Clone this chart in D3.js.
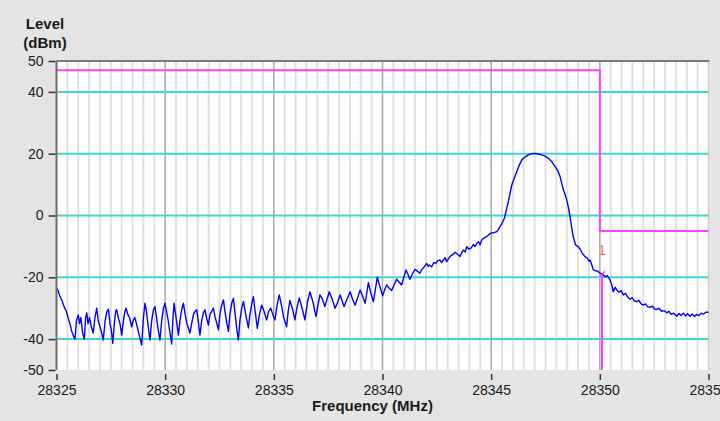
<!DOCTYPE html>
<html>
<head>
<meta charset="utf-8">
<script src="https://cdn.jsdelivr.net/npm/d3@7"></script>
<style>
  html, body { margin: 0; padding: 0; background: #e4e4e4; }
  svg { display: block; }
  text { font-family: "Liberation Sans", Arial, sans-serif; fill: #1a1a1a; }
</style>
</head>
<body>
<script>
// ---------------- DATA ----------------
const freqDomain = [28325, 28355];
const levelDomain = [-50, 50];
const xTickValues = [28325, 28330, 28335, 28340, 28345, 28350, 28355];
const yTickValues = [50, 40, 20, 0, -20, -40, -50];
const cyanGridLevels = [40, 20, 0, -20, -40];
const limitFreq = [28325, 28350, 28350, 28355];
const limitLevel = [47, 47, -5, -5];
const markerFreq = 28350.1;
const markerLevel = -19;
const markerLabel = "1";
const yTitle = ["Level", "(dBm)"];
const xTitle = "Frequency (MHz)";

// trace: [frequency MHz, level dBm]
const trace = [
[28325.00,-23.5],[28325.08,-24.5],[28325.15,-26],[28325.25,-27.5],[28325.35,-29.5],[28325.45,-31],
[28325.55,-33.5],[28325.62,-35],[28325.70,-37.5],[28325.78,-39],[28325.85,-40],[28325.92,-34],
[28326.00,-32.2],[28326.06,-35],[28326.12,-33],[28326.20,-38],[28326.28,-40],[28326.34,-33],
[28326.39,-31.5],[28326.45,-35],[28326.52,-33],[28326.60,-36],[28326.69,-38],[28326.77,-33],
[28326.85,-30],[28326.92,-34],[28327.00,-36],[28327.08,-38],[28327.15,-40.3],[28327.24,-34],
[28327.32,-31],[28327.39,-30.3],[28327.46,-35],[28327.52,-37],[28327.59,-41.4],[28327.66,-35],
[28327.72,-31],[28327.77,-30.5],[28327.84,-33],[28327.92,-35],[28328.00,-38.7],[28328.08,-34],
[28328.15,-31],[28328.20,-30],[28328.28,-32],[28328.36,-33],[28328.46,-36],[28328.53,-34],
[28328.60,-33],[28328.68,-35],[28328.78,-38],[28328.85,-40],[28328.92,-41.9],[28329.00,-33],
[28329.07,-28.4],[28329.14,-31],[28329.22,-36],[28329.30,-40.3],[28329.38,-34],[28329.46,-30.5],
[28329.53,-29.5],[28329.60,-33],[28329.68,-37],[28329.76,-40.3],[28329.84,-34],[28329.92,-30],
[28329.99,-28.4],[28330.06,-31],[28330.14,-34],[28330.22,-38],[28330.30,-41.6],[28330.36,-33],
[28330.41,-28.4],[28330.48,-32],[28330.54,-35],[28330.61,-38.7],[28330.68,-34],[28330.76,-30.5],
[28330.84,-28.4],[28330.92,-32],[28331.00,-35],[28331.07,-36.5],[28331.14,-38],[28331.22,-35],
[28331.30,-32],[28331.38,-31],[28331.45,-30.5],[28331.52,-34],[28331.60,-38.7],[28331.68,-34],
[28331.76,-31.5],[28331.83,-30.5],[28331.90,-33],[28331.99,-35.5],[28332.06,-32],[28332.14,-31],
[28332.22,-30],[28332.30,-33],[28332.38,-35],[28332.45,-37],[28332.52,-32],[28332.60,-29],
[28332.68,-27.3],[28332.75,-31],[28332.84,-35],[28332.91,-37.5],[28332.98,-32],[28333.06,-28.5],
[28333.14,-26.8],[28333.22,-32],[28333.30,-37],[28333.37,-40.3],[28333.44,-34],[28333.52,-30],
[28333.60,-27.8],[28333.68,-31],[28333.76,-34],[28333.83,-36.4],[28333.90,-32],[28334.00,-28],
[28334.06,-26.3],[28334.14,-31],[28334.24,-36.5],[28334.34,-32],[28334.44,-29],[28334.55,-31],
[28334.67,-33.8],[28334.76,-31],[28334.86,-30],[28334.95,-32],[28335.05,-33.8],[28335.15,-29],
[28335.25,-25.7],[28335.35,-29],[28335.45,-33],[28335.59,-36],[28335.66,-31],[28335.74,-27.5],
[28335.85,-30],[28335.97,-33.8],[28336.06,-30],[28336.17,-26.7],[28336.30,-30],[28336.43,-33.8],
[28336.55,-28],[28336.66,-24.7],[28336.80,-28],[28336.94,-32.7],[28337.03,-29],[28337.12,-25.7],
[28337.23,-27],[28337.35,-29.5],[28337.45,-27],[28337.55,-24.7],[28337.68,-27],[28337.82,-30],
[28337.94,-28],[28338.05,-25.7],[28338.14,-27.5],[28338.23,-29.5],[28338.37,-27],[28338.51,-24.7],
[28338.62,-27],[28338.74,-29],[28338.86,-26.5],[28338.97,-24.1],[28339.08,-26],[28339.20,-28.4],
[28339.28,-25],[28339.35,-21.7],[28339.46,-25],[28339.58,-27.9],[28339.67,-24],[28339.76,-20],
[28339.88,-23],[28340.01,-26],[28340.10,-24],[28340.19,-22.5],[28340.30,-23.5],[28340.42,-24.3],
[28340.53,-22.5],[28340.65,-20.6],[28340.76,-21.5],[28340.88,-22.5],[28340.98,-20],[28341.08,-17.6],
[28341.17,-19],[28341.26,-20.6],[28341.37,-19],[28341.49,-17.4],[28341.60,-18],[28341.72,-18.7],
[28341.80,-17.6],[28341.88,-17],[28341.96,-16.2],[28342.03,-15.5],[28342.10,-16.4],[28342.15,-16],
[28342.26,-16.6],[28342.36,-15.2],[28342.45,-15.5],[28342.55,-14.6],[28342.64,-14.4],[28342.72,-15.2],
[28342.80,-14.5],[28342.88,-13.6],[28342.95,-15],[28343.05,-13.8],[28343.15,-13],[28343.25,-12.6],
[28343.33,-11.9],[28343.45,-12.5],[28343.56,-13.3],[28343.65,-12.0],[28343.72,-11.2],[28343.80,-11.8],
[28343.88,-10.1],[28343.98,-10.9],[28344.08,-10.5],[28344.18,-9.4],[28344.26,-10.0],[28344.34,-9.0],
[28344.42,-8.5],[28344.49,-9.5],[28344.56,-8.0],[28344.64,-7.4],[28344.75,-7.0],[28344.85,-6.5],
[28344.95,-5.8],[28345.10,-5.6],[28345.26,-5.2],[28345.33,-4.5],[28345.41,-3.6],[28345.52,-2.2],
[28345.61,-0.9],[28345.70,1.8],[28345.79,4.5],[28345.87,7.2],[28345.95,9.9],[28346.05,11.8],
[28346.18,14.2],[28346.30,16.4],[28346.41,18.0],[28346.55,18.9],[28346.71,19.6],[28346.86,20.0],
[28347.02,20.1],[28347.18,19.9],[28347.33,19.6],[28347.48,19.2],[28347.63,18.5],[28347.80,17.3],
[28347.94,15.8],[28348.06,14.6],[28348.17,12.6],[28348.25,10.3],[28348.32,8.3],[28348.40,6.8],
[28348.48,5.0],[28348.56,2.4],[28348.63,-0.4],[28348.70,-3.8],[28348.78,-6.9],[28348.88,-9.5],
[28349.01,-10.1],[28349.10,-11.0],[28349.20,-12.3],[28349.32,-13.3],[28349.42,-13.8],[28349.50,-14.8],
[28349.55,-14.4],[28349.62,-15.8],[28349.70,-17.6],[28349.80,-17.9],[28349.90,-18.0],[28350.01,-18.7],
[28350.12,-18.9],[28350.24,-19.8],[28350.35,-19.5],[28350.47,-20.9],[28350.55,-22.5],[28350.62,-24.7],
[28350.70,-23.2],[28350.78,-24.1],[28350.88,-24.8],[28350.98,-24.3],[28351.08,-25.7],[28351.18,-25.2],
[28351.28,-26.4],[28351.39,-27.1],[28351.48,-26.6],[28351.58,-27.6],[28351.70,-27.9],[28351.80,-27.5],
[28351.90,-28.6],[28352.00,-29.0],[28352.10,-28.6],[28352.20,-29.5],[28352.31,-29.7],[28352.42,-29.3],
[28352.52,-30.3],[28352.62,-30.4],[28352.72,-30.0],[28352.84,-31.0],[28352.96,-30.8],[28353.08,-31.5],
[28353.18,-31.0],[28353.28,-32.0],[28353.40,-31.6],[28353.54,-32.6],[28353.64,-31.7],[28353.74,-32.4],
[28353.84,-31.6],[28353.94,-32.5],[28354.04,-31.8],[28354.15,-32.6],[28354.25,-31.9],[28354.36,-32.7],
[28354.46,-32.0],[28354.56,-32.4],[28354.66,-31.6],[28354.77,-31.9],[28354.88,-31.3],[28355.00,-31.3]
];

// ---------------- DRAW ----------------
const W = 720, H = 421;
const plot = { left: 56.5, right: 708.5, top: 61, bottom: 370 };

const svg = d3.select("body").append("svg").attr("width", W).attr("height", H);
svg.append("rect").attr("width", W).attr("height", H).attr("fill", "#e4e4e4");

const x = d3.scaleLinear().domain(freqDomain).range([plot.left, plot.right]);
const y = d3.scaleLinear().domain(levelDomain).range([plot.bottom, plot.top]);

// plot background
svg.append("rect")
  .attr("x", plot.left).attr("y", plot.top)
  .attr("width", plot.right - plot.left).attr("height", plot.bottom - plot.top)
  .attr("fill", "#ffffff");

// minor vertical gridlines every 0.5 MHz
const minorTicks = d3.range(0, 61).map(i => freqDomain[0] + i * 0.5).filter(f => !xTickValues.includes(f));
svg.append("g").selectAll("line").data(minorTicks).join("line")
  .attr("x1", d => x(d)).attr("x2", d => x(d))
  .attr("y1", plot.top).attr("y2", plot.bottom)
  .attr("stroke", "#e0e0e0").attr("stroke-width", 2);

// major vertical gridlines
svg.append("g").selectAll("line").data(xTickValues.slice(1, -1)).join("line")
  .attr("x1", d => x(d)).attr("x2", d => x(d))
  .attr("y1", plot.top).attr("y2", plot.bottom)
  .attr("stroke", "#a8a8a8").attr("stroke-width", 1.5);

// right edge line
svg.append("line")
  .attr("x1", x(freqDomain[1])).attr("x2", x(freqDomain[1]))
  .attr("y1", plot.top).attr("y2", plot.bottom)
  .attr("stroke", "#cfcfcf").attr("stroke-width", 1.5);

// cyan horizontal gridlines
svg.append("g").selectAll("line").data(cyanGridLevels).join("line")
  .attr("x1", plot.left).attr("x2", plot.right)
  .attr("y1", d => y(d)).attr("y2", d => y(d))
  .attr("stroke", "#40d4d4").attr("stroke-width", 2);

// limit line
const limitPts = limitFreq.map((f, i) => [f, limitLevel[i]]);
svg.append("path")
  .attr("d", d3.line().x(d => x(d[0])).y(d => y(d[1]))(limitPts))
  .attr("fill", "none").attr("stroke", "#ff40ff").attr("stroke-width", 2);

// trace
svg.append("path")
  .attr("d", d3.line().x(d => x(d[0])).y(d => y(d[1]))(trace))
  .attr("fill", "none").attr("stroke", "#0000ff").attr("stroke-width", 1.4)
  .attr("stroke-linejoin", "round");

// marker
svg.append("line")
  .attr("x1", x(markerFreq)).attr("x2", x(markerFreq))
  .attr("y1", y(markerLevel)).attr("y2", plot.bottom)
  .attr("stroke", "#ff40ff").attr("stroke-width", 2);
svg.append("line")
  .attr("x1", x(markerFreq) - 2).attr("x2", x(markerFreq) + 3)
  .attr("y1", y(markerLevel) + 2).attr("y2", y(markerLevel) - 3)
  .attr("stroke", "#ff40ff").attr("stroke-width", 1.2);
svg.append("text")
  .attr("x", x(markerFreq)).attr("y", y(markerLevel) - 19)
  .attr("text-anchor", "middle")
  .style("font-size", "15px").style("fill", "#f07a50")
  .text(markerLabel);

// top border and left axis line
svg.append("line")
  .attr("x1", plot.left).attr("x2", plot.right + 1)
  .attr("y1", plot.top).attr("y2", plot.top)
  .attr("stroke", "#7a7a7a").attr("stroke-width", 2);
svg.append("line")
  .attr("x1", plot.left).attr("x2", plot.left)
  .attr("y1", plot.top).attr("y2", plot.bottom)
  .attr("stroke", "#6a6a6a").attr("stroke-width", 2);

// y axis
const yAxis = d3.axisLeft(y).tickValues(yTickValues).tickSize(7).tickPadding(5).tickFormat(d => String(d));
const gy = svg.append("g").attr("transform", `translate(${plot.left - 1},0)`).call(yAxis);
gy.select(".domain").remove();
gy.selectAll(".tick line").attr("stroke", "#333").attr("stroke-width", 1.5);
gy.selectAll(".tick text").style("font-size", "14px").style("font-family", "Liberation Sans, Arial, sans-serif").attr("fill", "#1a1a1a");

// x axis
const xAxis = d3.axisBottom(x).tickValues(xTickValues).tickSize(6).tickPadding(5).tickFormat(d => String(d));
const gx = svg.append("g").attr("transform", `translate(0,${plot.bottom + 4})`).call(xAxis);
gx.select(".domain").remove();
gx.selectAll(".tick line").attr("stroke", "#333").attr("stroke-width", 1.5);
gx.selectAll(".tick text").style("font-size", "14px").style("font-family", "Liberation Sans, Arial, sans-serif").attr("fill", "#1a1a1a");

// titles
svg.append("text").attr("x", 45).attr("y", 29).attr("text-anchor", "middle")
  .style("font-size", "15px").style("font-weight", "bold").text(yTitle[0]);
svg.append("text").attr("x", 45).attr("y", 48).attr("text-anchor", "middle")
  .style("font-size", "15px").style("font-weight", "bold").text(yTitle[1]);
svg.append("text").attr("x", (plot.left + plot.right) / 2 - 10).attr("y", 411).attr("text-anchor", "middle")
  .style("font-size", "15px").style("font-weight", "bold").text(xTitle);
</script>
</body>
</html>
